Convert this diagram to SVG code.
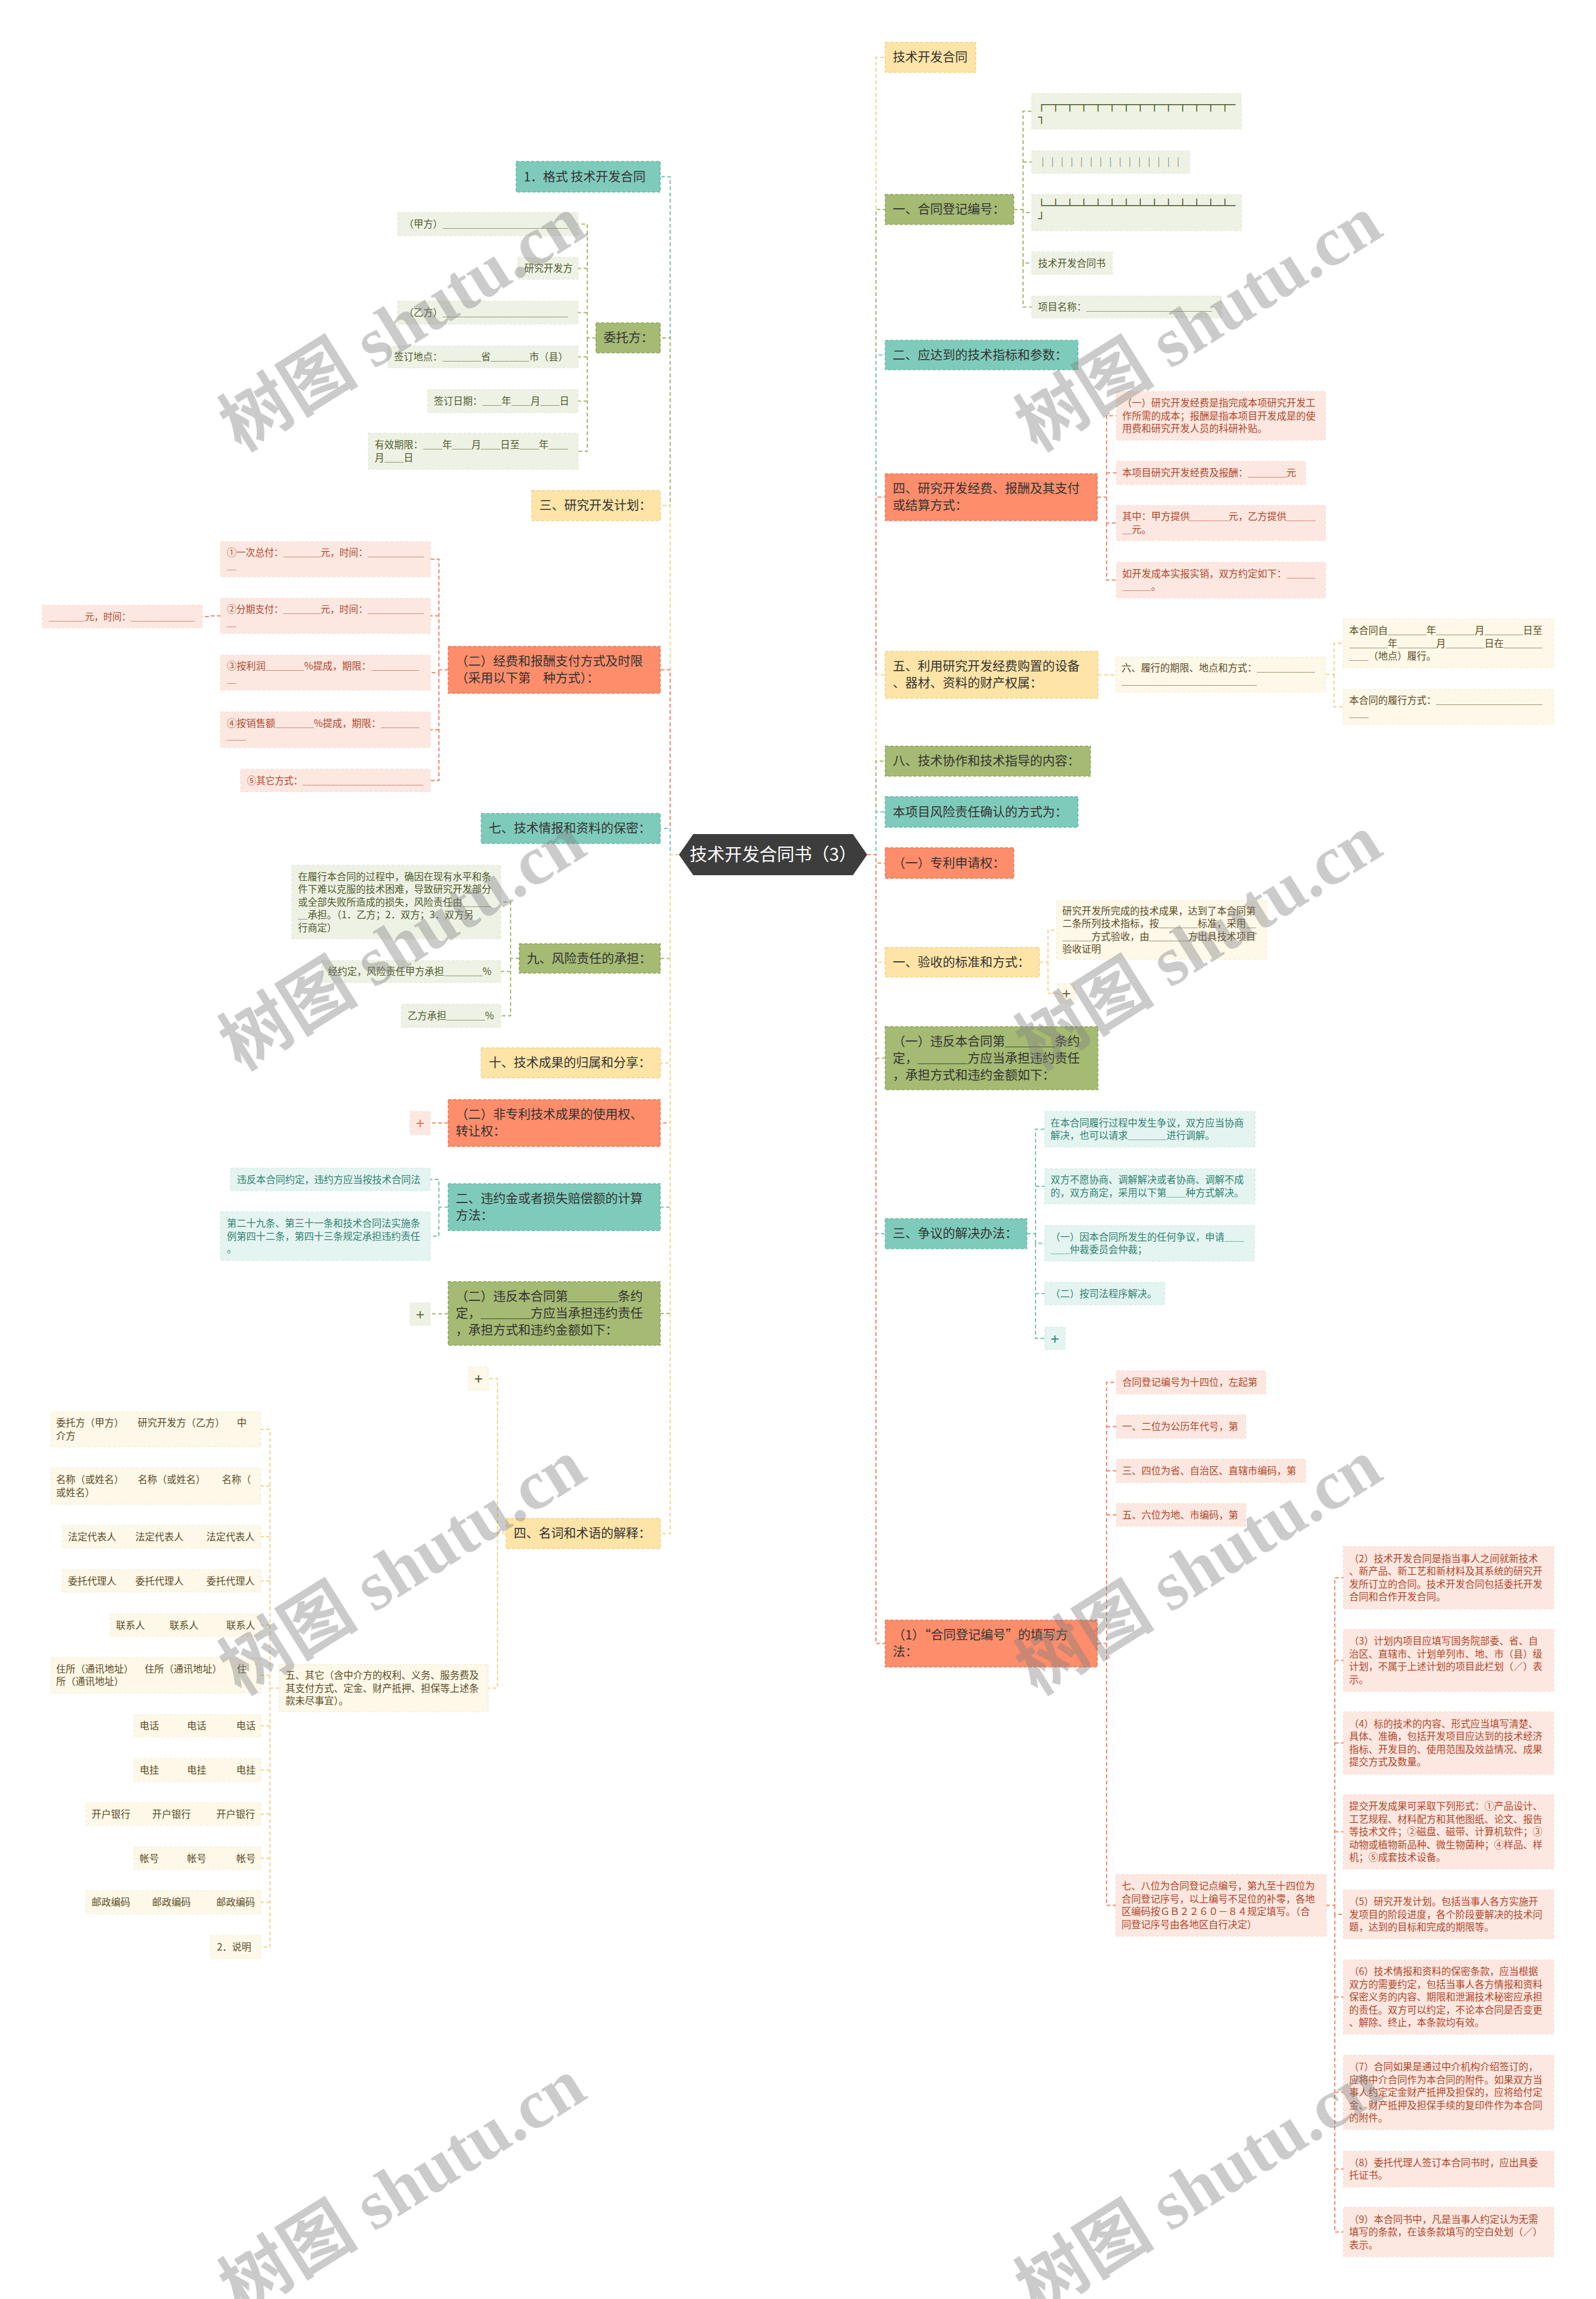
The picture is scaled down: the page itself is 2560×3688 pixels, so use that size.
<svg xmlns="http://www.w3.org/2000/svg" width="2560" height="3688" viewBox="0 0 2560 3688">
<style>
text{font-family:"Noto Sans CJK SC","Noto Sans",sans-serif}
.m{font-size:20px;fill:#333}
.l{font-size:15.5px}
.bx{font-family:"DejaVu Sans Mono",monospace;font-size:18.8px;fill:#4d5a2c}
.mt{fill:#7fcbbb;stroke:#64b8a6;stroke-width:1.5;stroke-dasharray:5 3}
.mg{fill:#a5ba73;stroke:#8da55c;stroke-width:1.5;stroke-dasharray:5 3}
.my{fill:#fee4a6;stroke:#f3d082;stroke-width:1.5;stroke-dasharray:5 3}
.mo{fill:#fd8d6b;stroke:#ee7655;stroke-width:1.5;stroke-dasharray:5 3}
.lg{fill:#eef2e5;stroke:#dfe6cf;stroke-width:1.2;stroke-dasharray:5 3}
.lp{fill:#fde8e1;stroke:#f8d6ca;stroke-width:1.2;stroke-dasharray:5 3}
.lt{fill:#e4f4f0;stroke:#cbe9e1;stroke-width:1.2;stroke-dasharray:5 3}
.lc{fill:#fdf8e8;stroke:#f4ecd2;stroke-width:1.2;stroke-dasharray:5 3}
.tg{fill:#4d5a2c}.tp{fill:#b0462a}.tt{fill:#2f8272}.tc{fill:#5b4a27}
.c{fill:none;stroke-width:2;stroke-dasharray:6 4}
.ct{stroke:#79c6b6}.cg{stroke:#a6bb76}.cy{stroke:#f2d790}.co{stroke:#f08c6c}
.pl{font-family:"Liberation Sans",sans-serif;font-size:24px;text-anchor:middle}
.wm{font-family:"Liberation Serif","Noto Sans CJK SC",serif;font-size:112px;font-weight:bold;fill:#808080;opacity:0.4;text-anchor:middle}
</style>

<g id="connectors">
<!-- level 1 right -->
<path class="c cy" d="M1391,1371 H1405 V92 H1420"/>
<path class="c cg" d="M1391,1371 H1405 V336 H1420"/>
<path class="c ct" d="M1391,1371 H1405 V569.5 H1420"/>
<path class="c co" d="M1391,1371 H1405 V797.5 H1420"/>
<path class="c cy" d="M1391,1371 H1405 V1082.5 H1420"/>
<path class="c cg" d="M1391,1371 H1405 V1221 H1420"/>
<path class="c ct" d="M1391,1371 H1405 V1302.5 H1420"/>
<path class="c co" d="M1391,1371 H1405 V1384.5 H1420"/>
<path class="c cy" d="M1391,1371 H1405 V1543.5 H1420"/>
<path class="c cg" d="M1391,1371 H1405 V1697.5 H1420"/>
<path class="c ct" d="M1391,1371 H1405 V1979 H1420"/>
<path class="c co" d="M1391,1371 H1405 V2636.5 H1420"/>
<!-- level 1 left -->
<path class="c ct" d="M1089,1371 H1075 V283.5 H1059"/>
<path class="c cg" d="M1089,1371 H1075 V542 H1059"/>
<path class="c cy" d="M1089,1371 H1075 V811 H1059"/>
<path class="c co" d="M1089,1371 H1075 V1074.5 H1059"/>
<path class="c ct" d="M1089,1371 H1075 V1329 H1059"/>
<path class="c cg" d="M1089,1371 H1075 V1537.5 H1059"/>
<path class="c cy" d="M1089,1371 H1075 V1705 H1059"/>
<path class="c co" d="M1089,1371 H1075 V1801.5 H1059"/>
<path class="c ct" d="M1089,1371 H1075 V1936.5 H1059"/>
<path class="c cg" d="M1089,1371 H1075 V2107 H1059"/>
<path class="c cy" d="M1089,1371 H1075 V2460 H1059"/>
<!-- right level 2 -->
<path class="c cg" d="M1626,336 H1641 V178.5 H1655 M1641,260 H1655 M1641,336 V341 H1655 M1641,336 V422 H1655 M1641,422 V492.5 H1655"/>
<path class="c co" d="M1760,797.5 H1775 V667 H1791 M1775,758.5 H1791 M1775,797.5 V839 H1791 M1775,839 V930.5 H1791"/>
<path class="c cy" d="M1761,1082.5 H1790"/>
<path class="c cy" d="M2126,1082 H2140 V1032 H2155 M2140,1082 V1134 H2155"/>
<path class="c cy" d="M1667,1543.5 H1681 V1492 H1695 M1681,1543.5 V1593.5 H1697"/>
<path class="c ct" d="M1647,1979 H1661 V1811.5 H1676 M1661,1903 H1676 M1661,1979 V1994.5 H1676 M1661,1994.5 V2075 H1676 M1661,2075 V2147 H1676"/>
<path class="c co" d="M1760,2636.5 H1775 V2217.5 H1791 M1775,2288.5 H1791 M1775,2359.5 H1791 M1775,2430 H1791 M1775,2636.5 V3056.5 H1790"/>
<path class="c co" d="M2127,3056.5 H2141 V2531 H2155 M2141,2663.5 H2155 M2141,2796 H2155 M2141,2938.5 H2155 M2141,3056.5 V3071 H2155 M2141,3071 V3580.5 H2155 M2141,3203.5 H2155 M2141,3356.5 H2155 M2141,3479.5 H2155"/>
<!-- left level 2 -->
<path class="c cg" d="M956,542 H942 V359.5 H927 M942,430.5 H927 M942,501.5 H927 M942,542 V724 H927 M942,572.5 H927 M942,643.5 H927"/>
<path class="c co" d="M719,1074.5 H704 V897 H690 M704,988 H690 M704,1074.5 V1079 H690 M704,1079 V1252 H690 M704,1170.5 H690"/>
<path class="c co" d="M354,988 H339 V989 H324"/>
<path class="c cg" d="M833,1537.5 H819 V1447 H803 M819,1537.5 V1629.5 H803 M819,1558.5 H803"/>
<path class="c co" d="M719,1801.5 H690"/>
<path class="c ct" d="M719,1936.5 H704 V1892 H690 M704,1936.5 V1983 H690"/>
<path class="c cg" d="M719,2107.5 H690"/>
<path class="c cy" d="M812,2460 H798 V2211.5 H783 M798,2460 V2708 H783"/>
<path class="c cy" d="M448,2708 H433 V2293 H418 M433,2384 H418 M433,2465 H418 M433,2536 H418 M433,2607 H418 M433,2687.5 H418 M433,2708 V3123.5 H418 M433,2768.5 H418 M433,2839.5 H418 M433,2910 H418 M433,2981 H418 M433,3051.5 H418"/>
</g>

<g id="center">
<polygon points="1089,1371 1112,1338 1368,1338 1391,1371 1368,1404 1112,1404" fill="#3d3d3d"/>
<text x="1240" y="1381" font-size="28" fill="#ffffff" text-anchor="middle">技术开发合同书（3）</text>
</g>

<!-- RIGHT MAIN NODES -->
<g id="r1"><rect class="my" x="1420" y="68" width="145" height="48"/><text class="m" x="1432" y="99">技术开发合同</text></g>
<g id="r2"><rect class="mg" x="1420" y="312" width="206" height="48"/><text class="m" x="1432" y="343">一、合同登记编号：</text></g>
<g id="r3"><rect class="mt" x="1420" y="546" width="309" height="47"/><text class="m" x="1432" y="576.5">二、应达到的技术指标和参数：</text></g>
<g id="r4"><rect class="mo" x="1420" y="760" width="340" height="75"/><text class="m" x="1432" y="791"><tspan x="1432">四、研究开发经费、报酬及其支付</tspan><tspan x="1432" dy="27">或结算方式：</tspan></text></g>
<g id="r5"><rect class="my" x="1420" y="1045" width="341" height="75"/><text class="m" x="1432" y="1076"><tspan x="1432">五、利用研究开发经费购置的设备</tspan><tspan x="1432" dy="27">、器材、资料的财产权属：</tspan></text></g>
<g id="r6"><rect class="mg" x="1420" y="1197" width="329" height="48"/><text class="m" x="1432" y="1228">八、技术协作和技术指导的内容：</text></g>
<g id="r7"><rect class="mt" x="1420" y="1278" width="309" height="49"/><text class="m" x="1432" y="1309.5">本项目风险责任确认的方式为：</text></g>
<g id="r8"><rect class="mo" x="1420" y="1360" width="206" height="49"/><text class="m" x="1432" y="1391.5">（一）专利申请权：</text></g>
<g id="r9"><rect class="my" x="1420" y="1520" width="247" height="47"/><text class="m" x="1432" y="1550.5">一、验收的标准和方式：</text></g>
<g id="r10"><rect class="mg" x="1420" y="1647" width="341" height="101"/><text class="m" x="1432" y="1677.5"><tspan x="1432">（一）违反本合同第＿＿＿＿条约</tspan><tspan x="1432" dy="27">定，＿＿＿＿方应当承担违约责任</tspan><tspan x="1432" dy="27">，承担方式和违约金额如下：</tspan></text></g>
<g id="r11"><rect class="mt" x="1420" y="1955" width="227" height="48"/><text class="m" x="1432" y="1986">三、争议的解决办法：</text></g>
<g id="r12"><rect class="mo" x="1420" y="2599" width="340" height="75"/><text class="m" x="1432" y="2630"><tspan x="1432">（1）“合同登记编号”的填写方</tspan><tspan x="1432" dy="27">法：</tspan></text></g>

<!-- LEFT MAIN NODES -->
<g id="l1"><rect class="mt" x="828" y="259" width="231" height="49"/><text class="m" x="840" y="290.5">1．格式 技术开发合同</text></g>
<g id="l2"><rect class="mg" x="956" y="518" width="103" height="48"/><text class="m" x="968" y="549">委托方：</text></g>
<g id="l3"><rect class="my" x="853" y="787" width="206" height="48"/><text class="m" x="865" y="818">三、研究开发计划：</text></g>
<g id="l4"><rect class="mo" x="719" y="1037" width="340" height="75"/><text class="m" x="731" y="1068"><tspan x="731">（二）经费和报酬支付方式及时限</tspan><tspan x="731" dy="27">（采用以下第　种方式）：</tspan></text></g>
<g id="l5"><rect class="mt" x="772" y="1305" width="287" height="48"/><text class="m" x="784" y="1336">七、技术情报和资料的保密：</text></g>
<g id="l6"><rect class="mg" x="833" y="1514" width="226" height="47"/><text class="m" x="845" y="1544.5">九、风险责任的承担：</text></g>
<g id="l7"><rect class="my" x="772" y="1681" width="287" height="48"/><text class="m" x="784" y="1712">十、技术成果的归属和分享：</text></g>
<g id="l8"><rect class="mo" x="719" y="1764" width="340" height="75"/><text class="m" x="731" y="1795"><tspan x="731">（二）非专利技术成果的使用权、</tspan><tspan x="731" dy="27">转让权：</tspan></text></g>
<g id="l9"><rect class="mt" x="719" y="1899" width="340" height="75"/><text class="m" x="731" y="1930"><tspan x="731">二、违约金或者损失赔偿额的计算</tspan><tspan x="731" dy="27">方法：</tspan></text></g>
<g id="l10"><rect class="mg" x="719" y="2056" width="340" height="102"/><text class="m" x="731" y="2087"><tspan x="731">（二）违反本合同第＿＿＿＿条约</tspan><tspan x="731" dy="27">定，＿＿＿＿方应当承担违约责任</tspan><tspan x="731" dy="27">，承担方式和违约金额如下：</tspan></text></g>
<g id="l11"><rect class="my" x="812" y="2436" width="247" height="48"/><text class="m" x="824" y="2467">四、名词和术语的解释：</text></g>

<!-- RIGHT LEAVES: r2 -->
<g id="r2a"><rect class="lg" x="1655" y="150" width="336" height="57"/><text class="bx" x="1665" y="173.75"><tspan x="1665">┌─┬─┬─┬─┬─┬─┬─┬─┬─┬─┬─┬─┬─┬─</tspan><tspan x="1665" dy="20.5">┐</tspan></text></g>
<g id="r2b"><rect class="lg" x="1655" y="242" width="253" height="36"/><text class="l tg" x="1665" y="265.5">｜｜｜｜｜｜｜｜｜｜｜｜｜｜｜</text></g>
<g id="r2c"><rect class="lg" x="1655" y="312" width="336" height="58"/><text class="bx" x="1665" y="336.25"><tspan x="1665">└─┴─┴─┴─┴─┴─┴─┴─┴─┴─┴─┴─┴─┴─</tspan><tspan x="1665" dy="20.5">┘</tspan></text></g>
<g id="r2d"><rect class="lg" x="1655" y="404" width="129" height="36"/><text class="l tg" x="1665" y="427.5">技术开发合同书</text></g>
<g id="r2e"><rect class="lg" x="1655" y="475" width="304" height="35"/><text class="l tg" x="1665" y="498">项目名称：＿＿＿＿＿＿＿＿＿＿＿＿＿</text></g>

<!-- r4 leaves -->
<g id="r4a"><rect class="lp" x="1791" y="628" width="335" height="78"/><text class="l tp" x="1800" y="652"><tspan x="1800">（一）研究开发经费是指完成本项研究开发工</tspan><tspan x="1800" dy="20.5">作所需的成本；报酬是指本项目开发成是的使</tspan><tspan x="1800" dy="20.5">用费和研究开发人员的科研补贴。</tspan></text></g>
<g id="r4b"><rect class="lp" x="1791" y="740" width="303" height="37"/><text class="l tp" x="1800" y="764">本项目研究开发经费及报酬：＿＿＿＿元</text></g>
<g id="r4c"><rect class="lp" x="1791" y="811" width="335" height="56"/><text class="l tp" x="1800" y="834.25"><tspan x="1800">其中：甲方提供＿＿＿＿元，乙方提供＿＿＿</tspan><tspan x="1800" dy="20.5">＿元。</tspan></text></g>
<g id="r4d"><rect class="lp" x="1791" y="902" width="335" height="57"/><text class="l tp" x="1800" y="925.75"><tspan x="1800">如开发成本实报实销，双方约定如下：＿＿＿</tspan><tspan x="1800" dy="20.5">＿＿＿。</tspan></text></g>

<!-- r5 leaves -->
<g id="r5a"><rect class="lc" x="1790" y="1054" width="336" height="56"/><text class="l tc" x="1799" y="1077.25"><tspan x="1799">六、履行的期限、地点和方式：＿＿＿＿＿＿</tspan><tspan x="1799" dy="20.5">＿＿＿＿＿＿＿＿＿＿＿＿＿＿</tspan></text></g>
<g id="r5b"><rect class="lc" x="2155" y="993" width="337" height="78"/><text class="l tc" x="2164" y="1017"><tspan x="2164">本合同自＿＿＿＿年＿＿＿＿月＿＿＿＿日至</tspan><tspan x="2164" dy="20.5">＿＿＿＿年＿＿＿＿月＿＿＿＿日在＿＿＿＿</tspan><tspan x="2164" dy="20.5">＿＿（地点）履行。</tspan></text></g>
<g id="r5c"><rect class="lc" x="2155" y="1106" width="337" height="56"/><text class="l tc" x="2164" y="1129.25"><tspan x="2164">本合同的履行方式：＿＿＿＿＿＿＿＿＿＿＿</tspan><tspan x="2164" dy="20.5">＿＿</tspan></text></g>

<!-- r9 leaves -->
<g id="r9a"><rect class="lc" x="1695" y="1445" width="337" height="94"/><text class="l tc" x="1704" y="1466.75"><tspan x="1704">研究开发所完成的技术成果，达到了本合同第</tspan><tspan x="1704" dy="20.5">二条所列技术指标，按＿＿＿＿标准，采用＿</tspan><tspan x="1704" dy="20.5">＿＿＿方式验收，由＿＿＿＿方出具技术项目</tspan><tspan x="1704" dy="20.5">验收证明</tspan></text></g>
<g id="r9b"><rect class="lc" x="1697" y="1578" width="27" height="31"/><text class="pl" x="1710.5" y="1602" fill="#6b5a35">+</text></g>

<!-- r11 leaves -->
<g id="r11a"><rect class="lt" x="1676" y="1783" width="337" height="57"/><text class="l tt" x="1685" y="1806.75"><tspan x="1685">在本合同履行过程中发生争议，双方应当协商</tspan><tspan x="1685" dy="20.5">解决，也可以请求＿＿＿＿进行调解。</tspan></text></g>
<g id="r11b"><rect class="lt" x="1676" y="1875" width="337" height="56"/><text class="l tt" x="1685" y="1898.25"><tspan x="1685">双方不愿协商、调解解决或者协商、调解不成</tspan><tspan x="1685" dy="20.5">的，双方商定，采用以下第＿＿种方式解决。</tspan></text></g>
<g id="r11c"><rect class="lt" x="1676" y="1966" width="336" height="57"/><text class="l tt" x="1685" y="1989.75"><tspan x="1685">（一）因本合同所发生的任何争议，申请＿＿</tspan><tspan x="1685" dy="20.5">＿＿仲裁委员会仲裁；</tspan></text></g>
<g id="r11d"><rect class="lt" x="1676" y="2057" width="192" height="36"/><text class="l tt" x="1685" y="2080.5">（二）按司法程序解决。</text></g>
<g id="r11e"><rect class="lt" x="1676" y="2129" width="32" height="36"/><text class="pl" x="1692" y="2155.5" fill="#2f8272">+</text></g>

<!-- r12 leaves -->
<g id="r12a"><rect class="lp" x="1791" y="2199" width="239" height="37"/><text class="l tp" x="1800" y="2223">合同登记编号为十四位，左起第</text></g>
<g id="r12b"><rect class="lp" x="1791" y="2270" width="207" height="37"/><text class="l tp" x="1800" y="2294">一、二位为公历年代号，第</text></g>
<g id="r12c"><rect class="lp" x="1791" y="2341" width="303" height="37"/><text class="l tp" x="1800" y="2365">三、四位为省、自治区、直辖市编码，第</text></g>
<g id="r12d"><rect class="lp" x="1791" y="2412" width="207" height="36"/><text class="l tp" x="1800" y="2435.5">五、六位为地、市编码，第</text></g>
<g id="r12e"><rect class="lp" x="1790" y="3007" width="337" height="99"/><text class="l tp" x="1799" y="3031.25"><tspan x="1799">七、八位为合同登记点编号，第九至十四位为</tspan><tspan x="1799" dy="20.5">合同登记序号，以上编号不足位的补零，各地</tspan><tspan x="1799" dy="20.5">区编码按ＧＢ２２６０－８４规定填写。（合</tspan><tspan x="1799" dy="20.5">同登记序号由各地区自行决定）</tspan></text></g>

<!-- 七八位 children -->
<g id="n2"><rect class="lp" x="2155" y="2481" width="337" height="100"/><text class="l tp" x="2164" y="2505.75"><tspan x="2164">（2）技术开发合同是指当事人之间就新技术</tspan><tspan x="2164" dy="20.5">、新产品、新工艺和新材料及其系统的研究开</tspan><tspan x="2164" dy="20.5">发所订立的合同。技术开发合同包括委托开发</tspan><tspan x="2164" dy="20.5">合同和合作开发合同。</tspan></text></g>
<g id="n3"><rect class="lp" x="2155" y="2614" width="337" height="99"/><text class="l tp" x="2164" y="2638.25"><tspan x="2164">（3）计划内项目应填写国务院部委、省、自</tspan><tspan x="2164" dy="20.5">治区、直辖市、计划单列市、地、市（县）级</tspan><tspan x="2164" dy="20.5">计划，不属于上述计划的项目此栏划（／）表</tspan><tspan x="2164" dy="20.5">示。</tspan></text></g>
<g id="n4"><rect class="lp" x="2155" y="2746" width="337" height="100"/><text class="l tp" x="2164" y="2770.75"><tspan x="2164">（4）标的技术的内容、形式应当填写清楚、</tspan><tspan x="2164" dy="20.5">具体、准确，包括开发项目应达到的技术经济</tspan><tspan x="2164" dy="20.5">指标、开发目的、使用范围及效益情况、成果</tspan><tspan x="2164" dy="20.5">提交方式及数量。</tspan></text></g>
<g id="n4b"><rect class="lp" x="2155" y="2879" width="337" height="119"/><text class="l tp" x="2164" y="2903"><tspan x="2164">提交开发成果可采取下列形式：①产品设计、</tspan><tspan x="2164" dy="20.5">工艺规程、材料配方和其他图纸、论文、报告</tspan><tspan x="2164" dy="20.5">等技术文件；②磁盘、磁带、计算机软件；③</tspan><tspan x="2164" dy="20.5">动物或植物新品种、微生物菌种；④样品、样</tspan><tspan x="2164" dy="20.5">机；⑤成套技术设备。</tspan></text></g>
<g id="n5"><rect class="lp" x="2155" y="3032" width="337" height="78"/><text class="l tp" x="2164" y="3056"><tspan x="2164">（5）研究开发计划。包括当事人各方实施开</tspan><tspan x="2164" dy="20.5">发项目的阶段进度，各个阶段要解决的技术问</tspan><tspan x="2164" dy="20.5">题，达到的目标和完成的期限等。</tspan></text></g>
<g id="n6"><rect class="lp" x="2155" y="3144" width="337" height="119"/><text class="l tp" x="2164" y="3168"><tspan x="2164">（6）技术情报和资料的保密条款，应当根据</tspan><tspan x="2164" dy="20.5">双方的需要约定，包括当事人各方情报和资料</tspan><tspan x="2164" dy="20.5">保密义务的内容、期限和泄漏技术秘密应承担</tspan><tspan x="2164" dy="20.5">的责任。双方可以约定，不论本合同是否变更</tspan><tspan x="2164" dy="20.5">、解除、终止，本条款均有效。</tspan></text></g>
<g id="n7"><rect class="lp" x="2155" y="3297" width="337" height="119"/><text class="l tp" x="2164" y="3321"><tspan x="2164">（7）合同如果是通过中介机构介绍签订的，</tspan><tspan x="2164" dy="20.5">应将中介合同作为本合同的附件。如果双方当</tspan><tspan x="2164" dy="20.5">事人约定定金财产抵押及担保的，应将给付定</tspan><tspan x="2164" dy="20.5">金、财产抵押及担保手续的复印件作为本合同</tspan><tspan x="2164" dy="20.5">的附件。</tspan></text></g>
<g id="n8"><rect class="lp" x="2155" y="3451" width="337" height="57"/><text class="l tp" x="2164" y="3474.75"><tspan x="2164">（8）委托代理人签订本合同书时，应出具委</tspan><tspan x="2164" dy="20.5">托证书。</tspan></text></g>
<g id="n9"><rect class="lp" x="2155" y="3541" width="337" height="79"/><text class="l tp" x="2164" y="3565.5"><tspan x="2164">（9）本合同书中，凡是当事人约定认为无需</tspan><tspan x="2164" dy="20.5">填写的条款，在该条款填写的空白处划（／）</tspan><tspan x="2164" dy="20.5">表示。</tspan></text></g>

<!-- LEFT LEAVES: l2 -->
<g id="l2a"><rect class="lg" x="638" y="341" width="289" height="37"/><text class="l tg" x="648" y="365">（甲方）＿＿＿＿＿＿＿＿＿＿＿＿＿</text></g>
<g id="l2b"><rect class="lg" x="831" y="413" width="96" height="35"/><text class="l tg" x="841" y="436">研究开发方</text></g>
<g id="l2c"><rect class="lg" x="638" y="483" width="289" height="37"/><text class="l tg" x="648" y="507">（乙方）＿＿＿＿＿＿＿＿＿＿＿＿＿</text></g>
<g id="l2d"><rect class="lg" x="622" y="555" width="305" height="35"/><text class="l tg" x="632" y="578">签订地点：＿＿＿＿省＿＿＿＿市（县）</text></g>
<g id="l2e"><rect class="lg" x="686" y="625" width="241" height="37"/><text class="l tg" x="696" y="649">签订日期：＿＿年＿＿月＿＿日</text></g>
<g id="l2f"><rect class="lg" x="591" y="695" width="336" height="58"/><text class="l tg" x="601" y="719.25"><tspan x="601">有效期限：＿＿年＿＿月＿＿日至＿＿年＿＿</tspan><tspan x="601" dy="20.5">月＿＿日</tspan></text></g>

<!-- l4 leaves -->
<g id="l4a"><rect class="lp" x="354" y="869" width="336" height="56"/><text class="l tp" x="364" y="892.25"><tspan x="364" textLength="316" lengthAdjust="spacingAndGlyphs">①一次总付：＿＿＿＿元，时间：＿＿＿＿＿＿</tspan><tspan x="364" dy="20.5">＿</tspan></text></g>
<g id="l4b"><rect class="lp" x="354" y="960" width="336" height="56"/><text class="l tp" x="364" y="983.25"><tspan x="364" textLength="316" lengthAdjust="spacingAndGlyphs">②分期支付：＿＿＿＿元，时间：＿＿＿＿＿＿</tspan><tspan x="364" dy="20.5">＿</tspan></text></g>
<g id="l4b1"><rect class="lp" x="68" y="971" width="256" height="36"/><text class="l tp" x="78" y="994.5" textLength="234" lengthAdjust="spacingAndGlyphs">＿＿＿＿元，时间：＿＿＿＿＿＿＿</text></g>
<g id="l4c"><rect class="lp" x="354" y="1051" width="336" height="56"/><text class="l tp" x="364" y="1074.25"><tspan x="364">③按利润＿＿＿＿%提成，期限：＿＿＿＿＿</tspan><tspan x="364" dy="20.5">＿</tspan></text></g>
<g id="l4d"><rect class="lp" x="354" y="1142" width="336" height="57"/><text class="l tp" x="364" y="1165.75"><tspan x="364">④按销售额＿＿＿＿%提成，期限：＿＿＿＿</tspan><tspan x="364" dy="20.5">＿＿</tspan></text></g>
<g id="l4e"><rect class="lp" x="386" y="1234" width="304" height="36"/><text class="l tp" x="396" y="1257.5" textLength="283" lengthAdjust="spacingAndGlyphs">⑤其它方式：＿＿＿＿＿＿＿＿＿＿＿＿＿</text></g>

<!-- l6 leaves -->
<g id="l6a"><rect class="lg" x="468" y="1388" width="335" height="118"/><text class="l tg" x="478" y="1411.5"><tspan x="478">在履行本合同的过程中，确因在现有水平和条</tspan><tspan x="478" dy="20.5">件下难以克服的技术困难，导致研究开发部分</tspan><tspan x="478" dy="20.5">或全部失败所造成的损失，风险责任由＿＿＿</tspan><tspan x="478" dy="20.5">＿承担。（1．乙方；2．双方；3．双方另</tspan><tspan x="478" dy="20.5">行商定）</tspan></text></g>
<g id="l6b"><rect class="lg" x="516" y="1541" width="287" height="35"/><text class="l tg" x="526" y="1564">经约定，风险责任甲方承担＿＿＿＿%</text></g>
<g id="l6c"><rect class="lg" x="644" y="1611" width="159" height="37"/><text class="l tg" x="654" y="1635">乙方承担＿＿＿＿%</text></g>

<!-- l8 plus -->
<g id="l8a"><rect class="lp" x="658" y="1783" width="32" height="37"/><text class="pl" x="674" y="1810" fill="#e0714f">+</text></g>

<!-- l9 leaves -->
<g id="l9a"><rect class="lt" x="370" y="1874" width="320" height="36"/><text class="l tt" x="380" y="1897.5">违反本合同约定，违约方应当按技术合同法</text></g>
<g id="l9b"><rect class="lt" x="354" y="1944" width="336" height="78"/><text class="l tt" x="364" y="1968"><tspan x="364">第二十九条、第三十一条和技术合同法实施条</tspan><tspan x="364" dy="20.5">例第四十二条，第四十三条规定承担违约责任</tspan><tspan x="364" dy="20.5">。</tspan></text></g>

<!-- l10 plus -->
<g id="l10a"><rect class="lg" x="658" y="2090" width="32" height="36"/><text class="pl" x="674" y="2116.5" fill="#5f6e35">+</text></g>

<!-- l11 leaves -->
<g id="l11a"><rect class="lc" x="752" y="2193" width="31" height="37"/><text class="pl" x="767.5" y="2220" fill="#5b4a27">+</text></g>
<g id="l11b"><rect class="lc" x="448" y="2670" width="335" height="76"/><text class="l tc" x="458" y="2693"><tspan x="458">五、其它（含中介方的权利、义务、服务费及</tspan><tspan x="458" dy="20.5">其支付方式、定金、财产抵押、担保等上述条</tspan><tspan x="458" dy="20.5">款未尽事宜）。</tspan></text></g>

<g id="o1"><rect class="lc" x="82" y="2265" width="336" height="56"/><text class="l tc" y="2288.25"><tspan x="90">委托方（甲方）</tspan><tspan x="221">研究开发方（乙方）</tspan><tspan x="380">中</tspan><tspan x="90" dy="20.5">介方</tspan></text></g>
<g id="o2"><rect class="lc" x="82" y="2355" width="336" height="58"/><text class="l tc" y="2379.25"><tspan x="90">名称（或姓名）</tspan><tspan x="221">名称（或姓名）</tspan><tspan x="356">名称（</tspan><tspan x="90" dy="20.5">或姓名）</tspan></text></g>
<g id="o3"><rect class="lc" x="100" y="2447" width="318" height="36"/><text class="l tc" y="2470.5"><tspan x="109">法定代表人</tspan><tspan x="217">法定代表人</tspan><tspan x="331">法定代表人</tspan></text></g>
<g id="o4"><rect class="lc" x="100" y="2518" width="318" height="36"/><text class="l tc" y="2541.5"><tspan x="109">委托代理人</tspan><tspan x="217">委托代理人</tspan><tspan x="331">委托代理人</tspan></text></g>
<g id="o5"><rect class="lc" x="177" y="2589" width="241" height="36"/><text class="l tc" y="2612.5"><tspan x="186">联系人</tspan><tspan x="272">联系人</tspan><tspan x="363">联系人</tspan></text></g>
<g id="o6"><rect class="lc" x="82" y="2659" width="336" height="57"/><text class="l tc" y="2682.75"><tspan x="90">住所（通讯地址）</tspan><tspan x="232">住所（通讯地址）</tspan><tspan x="380">住</tspan><tspan x="90" dy="20.5">所（通讯地址）</tspan></text></g>
<g id="o7"><rect class="lc" x="215" y="2751" width="203" height="35"/><text class="l tc" y="2774"><tspan x="224">电话</tspan><tspan x="300">电话</tspan><tspan x="379">电话</tspan></text></g>
<g id="o8"><rect class="lc" x="215" y="2821" width="203" height="37"/><text class="l tc" y="2845"><tspan x="224">电挂</tspan><tspan x="300">电挂</tspan><tspan x="379">电挂</tspan></text></g>
<g id="o9"><rect class="lc" x="138" y="2892" width="280" height="36"/><text class="l tc" y="2915.5"><tspan x="147">开户银行</tspan><tspan x="244">开户银行</tspan><tspan x="347">开户银行</tspan></text></g>
<g id="o10"><rect class="lc" x="215" y="2963" width="203" height="36"/><text class="l tc" y="2986.5"><tspan x="224">帐号</tspan><tspan x="300">帐号</tspan><tspan x="379">帐号</tspan></text></g>
<g id="o11"><rect class="lc" x="138" y="3033" width="280" height="37"/><text class="l tc" y="3057"><tspan x="147">邮政编码</tspan><tspan x="244">邮政编码</tspan><tspan x="347">邮政编码</tspan></text></g>
<g id="o12"><rect class="lc" x="338" y="3105" width="80" height="37"/><text class="l tc" x="348" y="3129">2．说明</text></g>

<g id="watermarks">
<text class="wm" x="645" y="557" transform="rotate(-32 645 518)">树图 shutu.cn</text>
<text class="wm" x="1922" y="557" transform="rotate(-32 1922 518)">树图 shutu.cn</text>
<text class="wm" x="645" y="1550" transform="rotate(-32 645 1511)">树图 shutu.cn</text>
<text class="wm" x="1922" y="1550" transform="rotate(-32 1922 1511)">树图 shutu.cn</text>
<text class="wm" x="645" y="2552" transform="rotate(-32 645 2513)">树图 shutu.cn</text>
<text class="wm" x="1922" y="2552" transform="rotate(-32 1922 2513)">树图 shutu.cn</text>
<text class="wm" x="645" y="3545" transform="rotate(-32 645 3506)">树图 shutu.cn</text>
<text class="wm" x="1922" y="3545" transform="rotate(-32 1922 3506)">树图 shutu.cn</text>
</g>
</svg>
